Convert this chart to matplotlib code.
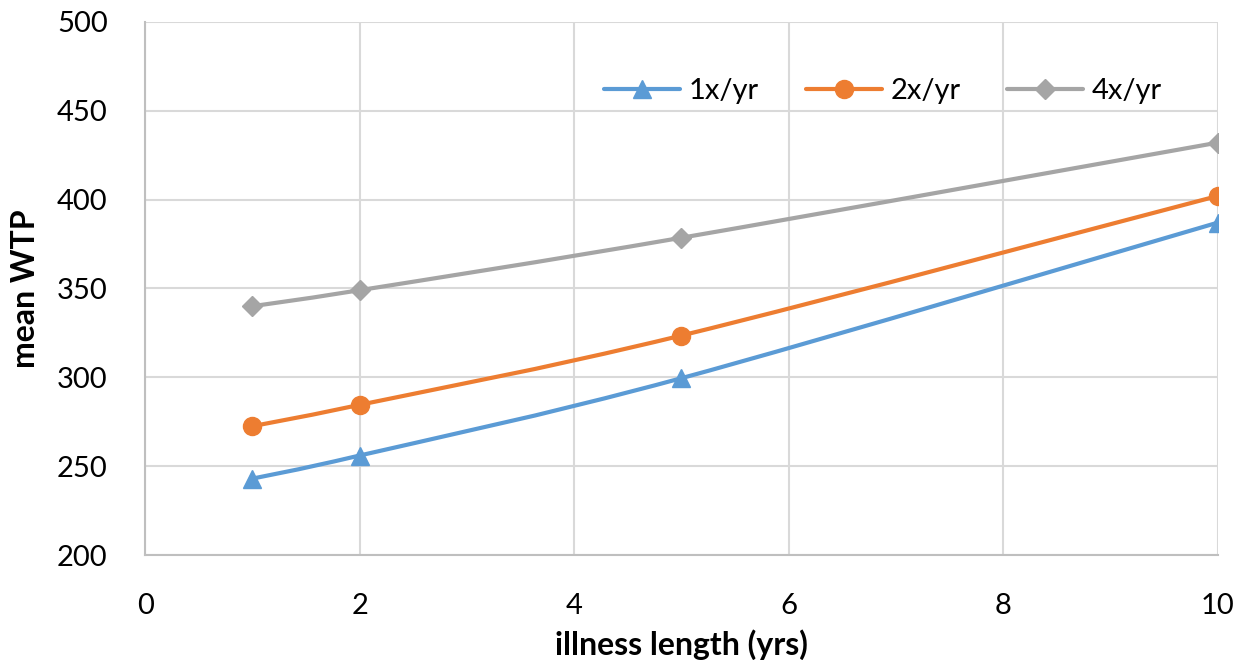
import matplotlib
matplotlib.use('Agg')
import matplotlib.pyplot as plt
from matplotlib.path import Path
from matplotlib.patches import PathPatch
from matplotlib.lines import Line2D

plt.rcParams['font.family'] = ['Lato', 'DejaVu Sans']

# data
years = [1, 2, 5, 10]
wtp_1x = [243, 256, 299.5, 387]
wtp_2x = [272.5, 284.5, 323.5, 402]
wtp_4x = [340, 349, 378.5, 432]
series_names = ['1x/yr', '2x/yr', '4x/yr']
colors = ['#5B9BD5', '#ED7D31', '#A5A5A5']
markers = ['^', 'o', 'D']
msizes = [13, 13, 10]


def smooth_path(xs, ys):
    # Excel style smoothed line: cubic bezier segments through the points
    pts = list(zip(xs, ys))
    verts = [pts[0]]
    codes = [Path.MOVETO]
    n = len(pts)
    for i in range(n - 1):
        p0 = pts[i - 1] if i > 0 else pts[i]
        p1 = pts[i]
        p2 = pts[i + 1]
        p3 = pts[i + 2] if i + 2 < n else pts[i + 1]
        c1 = (p1[0] + (p2[0] - p0[0]) / 6, p1[1] + (p2[1] - p0[1]) / 6)
        c2 = (p2[0] - (p3[0] - p1[0]) / 6, p2[1] - (p3[1] - p1[1]) / 6)
        verts += [c1, c2, p2]
        codes += [Path.CURVE4] * 3
    return Path(verts, codes)


fig = plt.figure(figsize=(12.4, 6.6), dpi=100)
ax = fig.add_axes([0.117, 0.159, 0.865, 0.808])

handles = []
for vals, name, c, m, ms in zip([wtp_1x, wtp_2x, wtp_4x], series_names, colors, markers, msizes):
    ax.add_patch(PathPatch(smooth_path(years, vals), facecolor='none', edgecolor=c,
                           lw=3, capstyle='round', zorder=3))
    ax.plot(years, vals, linestyle='none', marker=m, color=c, markersize=ms, zorder=4)
    handles.append(Line2D([], [], color=c, lw=3, marker=m, markersize=ms,
                          solid_capstyle='round', label=name))

ax.set_xlim(0, 10)
ax.set_ylim(200, 500)
ax.set_xticks(range(0, 11, 2))
ax.set_yticks(range(200, 501, 50))
ax.grid(True, color='#D9D9D9', lw=1.5)
ax.set_axisbelow(True)
for s in ['top', 'right']:
    ax.spines[s].set_visible(False)
for s in ['left', 'bottom']:
    ax.spines[s].set_color('#BFBFBF')
    ax.spines[s].set_linewidth(1.5)
ax.tick_params(length=0, labelsize=21, colors='black')
ax.tick_params(axis='x', pad=27)
ax.tick_params(axis='y', pad=27)

ax.set_xlabel('illness length (yrs)', fontsize=23, fontweight='bold', labelpad=8)
ax.set_ylabel('mean WTP', fontsize=23, fontweight='bold', labelpad=12)

ax.legend(handles=handles, loc='center', bbox_to_anchor=(0.688, 0.87), ncol=3,
          frameon=False, fontsize=21, handlelength=2.6, columnspacing=1.6,
          handletextpad=0.3)

fig.savefig('out.png', dpi=100)
